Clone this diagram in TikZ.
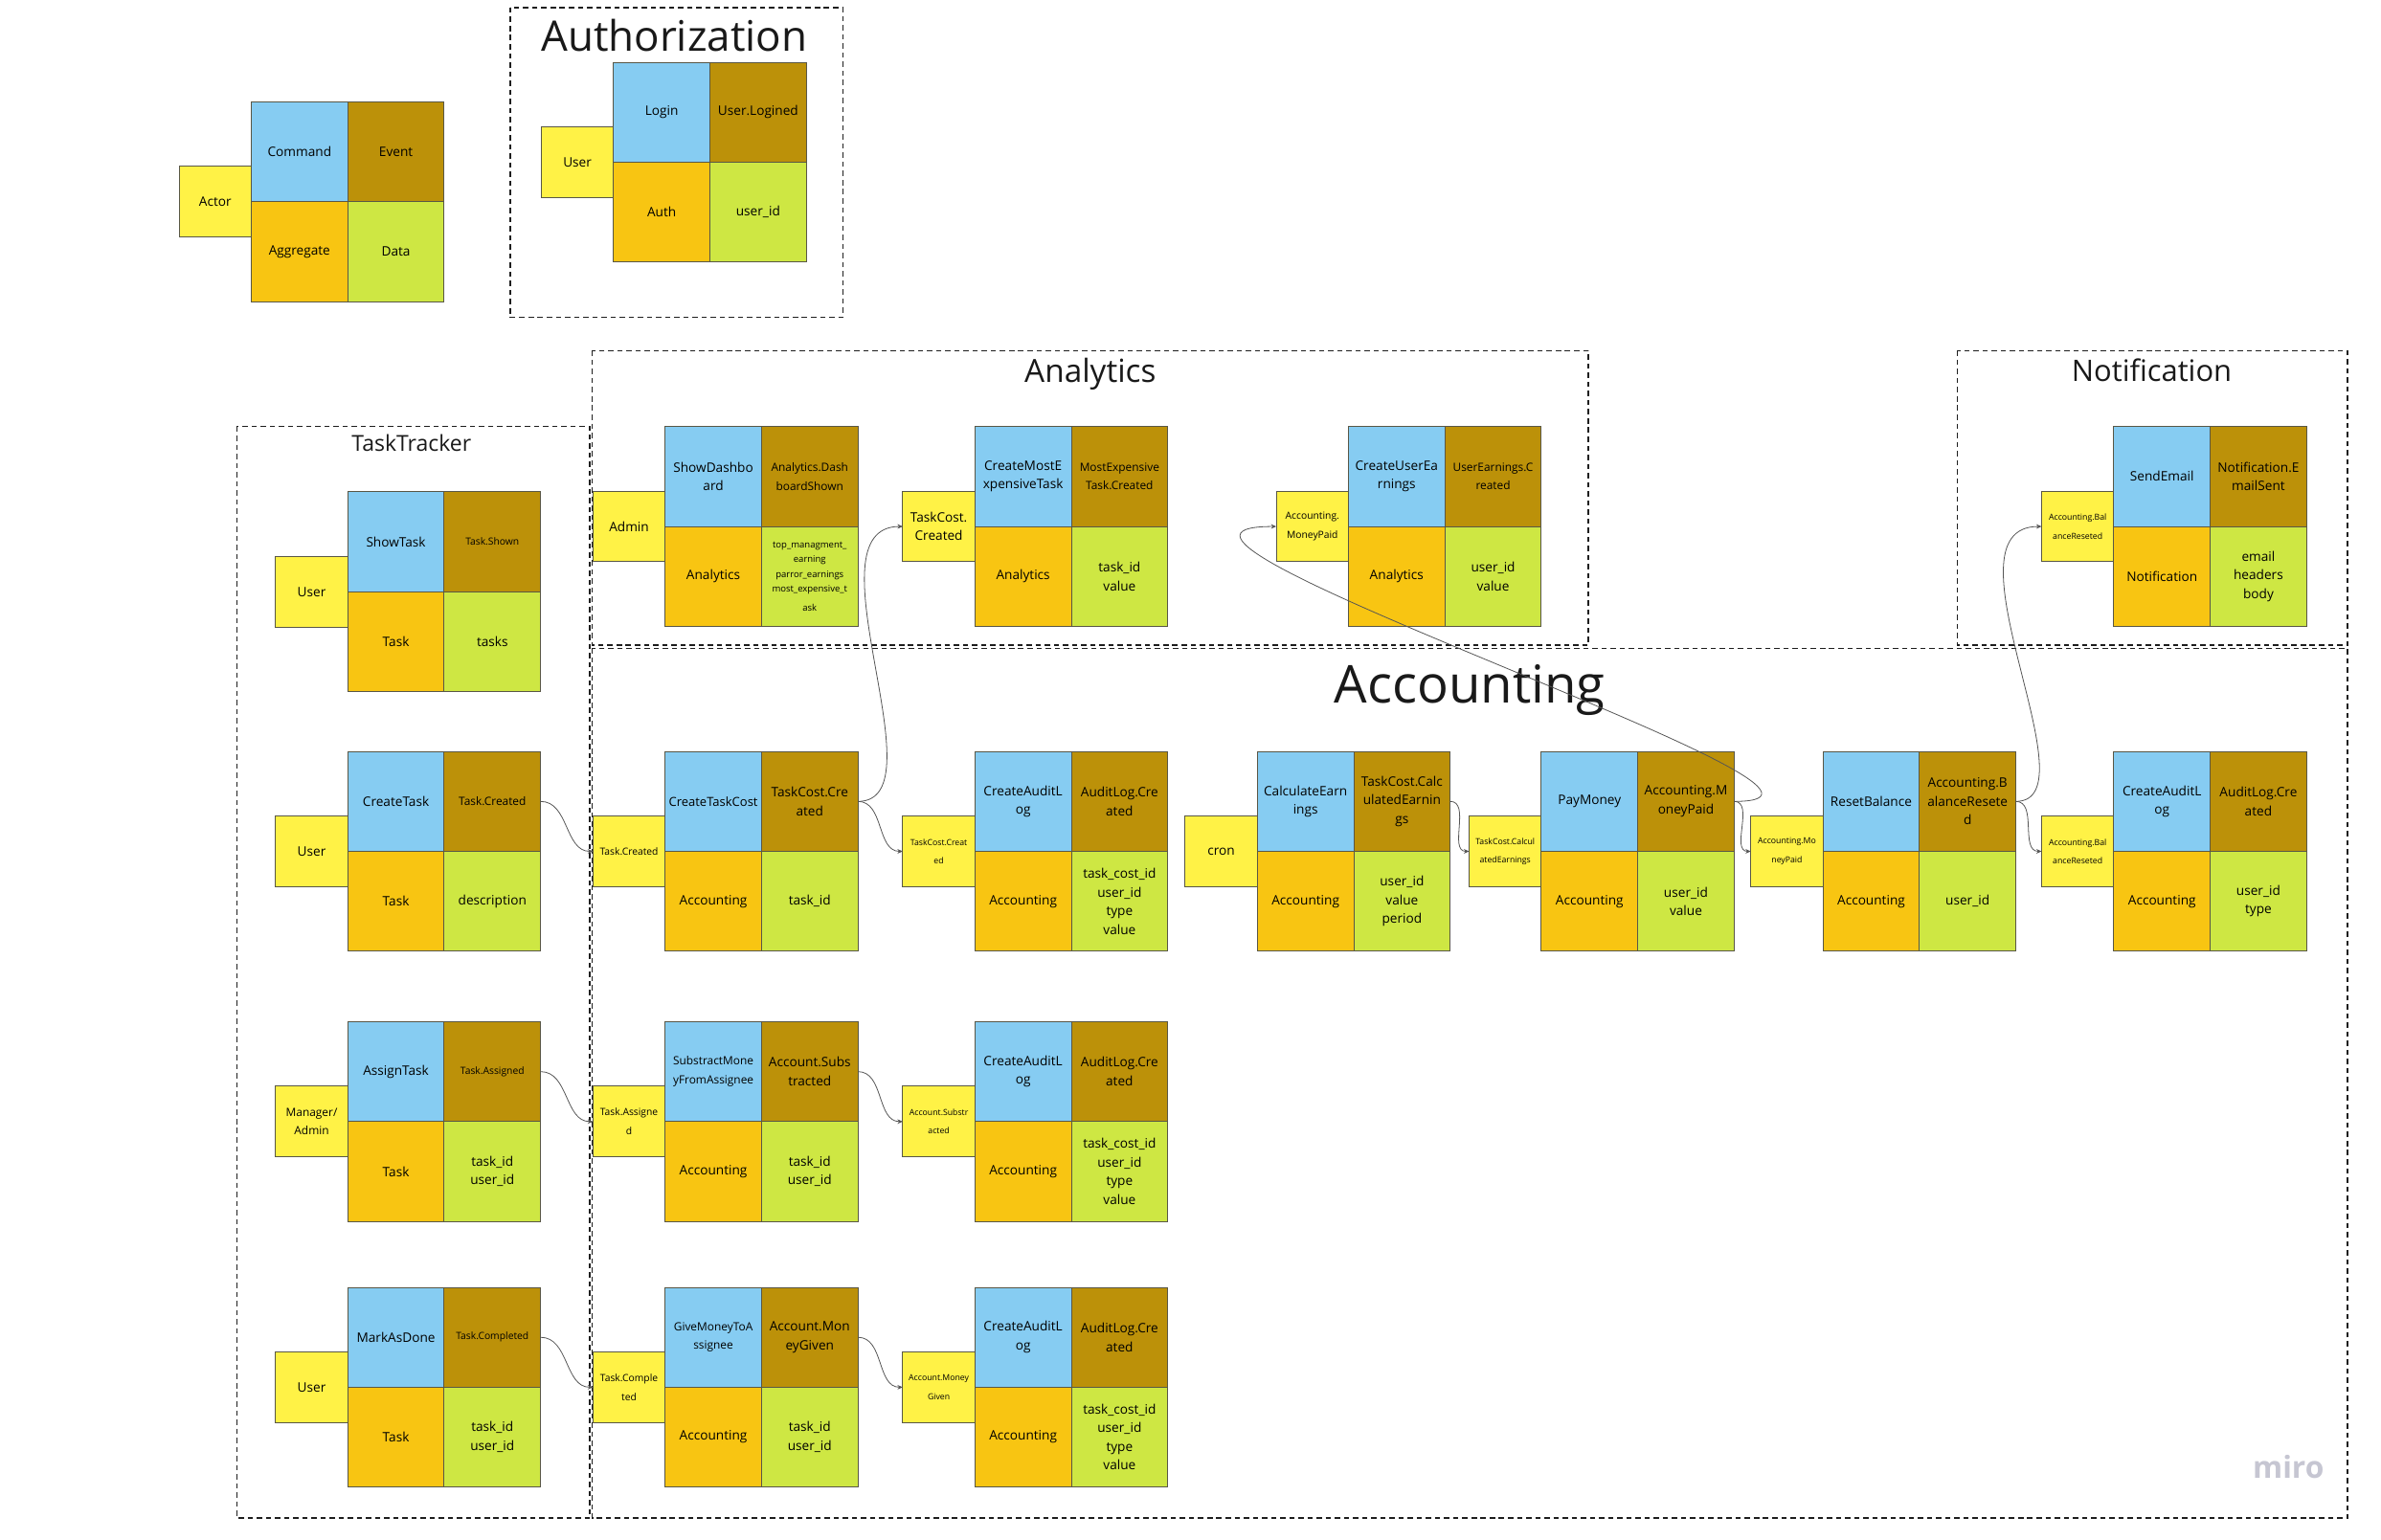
\documentclass[tikz,border=0pt]{standalone}
\usepackage{fontspec}
\setmainfont{Open Sans}
\usetikzlibrary{arrows.meta}
\definecolor{cmdc}{HTML}{86CCF2}
\definecolor{evc}{HTML}{BC9109}
\definecolor{aggc}{HTML}{F8C512}
\definecolor{datc}{HTML}{CEE743}
\definecolor{actc}{HTML}{FFF246}
\definecolor{cellline}{HTML}{595746}
\definecolor{connc}{HTML}{555555}
\definecolor{framec}{HTML}{1E1E1E}
\definecolor{miroc}{HTML}{C6C6D2}
\hyphenpenalty=10000
\exhyphenpenalty=10000
\newcommand\szA{\fontsize{8.6}{12.3}\selectfont}
\newcommand\szB{\fontsize{7.5}{10}\selectfont}
\newcommand\szC{\fontsize{6.5}{8.8}\selectfont}
\newcommand\szD{\fontsize{5.5}{7.4}\selectfont}
\newcommand\szE{\fontsize{6}{9.8}\selectfont}
\tikzset{
 cellbase/.style={draw=cellline, line width=0.6pt, minimum width=63.5pt, minimum height=65.8pt,
   text width=62pt, inner xsep=0.75pt, inner ysep=1pt, align=center, anchor=north west,
   outer sep=0pt, font=\szA},
 cmdcell/.style={cellbase, fill=cmdc},
 evcell/.style={cellbase, fill=evc},
 aggcell/.style={cellbase, fill=aggc},
 datcell/.style={cellbase, fill=datc},
 actbox/.style={draw=cellline, line width=0.6pt, fill=actc, minimum width=47.5pt,
   minimum height=46.5pt, text width=46pt, inner xsep=0.75pt, align=center, anchor=east,
   outer sep=0pt, font=\szA},
 zone/.style={draw=framec, line width=0.9pt, dash pattern=on 3.5pt off 2.5pt},
 ztitle/.style={inner sep=0pt, anchor=base, text=black!90},
 conn/.style={draw=connc, line width=0.5pt, -{Stealth[length=3.5pt,width=3pt]}},
}
\newcommand\EBlock[8]{%
 \node[cmdcell] (#1c) at (#2,#3) {#4};
 \node[evcell] (#1e) at (#2+63.5,#3) {#5};
 \node[aggcell] (#1a) at (#2,#3+65.8) {#6};
 \node[datcell] (#1d) at (#2+63.5,#3+65.8) {#7};
 \node[actbox] (#1y) at (#2,#3+65.8) {#8};
}
\begin{document}
\begin{tikzpicture}[x=1pt,y=-1pt]
\useasboundingbox[fill=white] (0,0) rectangle (1568,1014);

% frames
\draw[zone] (336,5) rectangle (555,209);
\draw[zone] (390,231) rectangle (1046,425);
\draw[zone] (1289,231) rectangle (1546,425);
\draw[zone] (156,281) rectangle (388.5,1000);
\draw[zone] (390,427) rectangle (1546,1000);

% titles
\node[ztitle, font=\fontsize{27.7}{32}\selectfont] (tAuth) at (444,33.6) {Authorization};
\node[ztitle, font=\fontsize{21}{25}\selectfont] (tAna) at (718,252) {Analytics};
\node[ztitle, font=\fontsize{19.5}{23}\selectfont] (tNot) at (1417,251) {Notification};
\node[ztitle, font=\fontsize{14.5}{17}\selectfont] (tTT) at (271,297.5) {TaskTracker};
\node[ztitle, font=\fontsize{34.4}{40}\selectfont] (tAcc) at (968,463) {Accounting};
\node[font=\fontsize{20}{24}\selectfont\bfseries, text=miroc, anchor=base] (miro) at (1507,974) {miro};

% legend and authorization
\EBlock{L}{165.5}{67}{Command}{Event}{Aggregate}{Data}{Actor}
\EBlock{AU}{404}{41}{Login}{User.Logined}{Auth}{user\_id}{User}

% analytics
\EBlock{ANa}{438}{281}{ShowDashbo\\ard}{\szB Analytics.Dash\\boardShown}{Analytics}
 {\szE top\_managment\_\\earning\\parror\_earnings\\most\_expensive\_t\\ask}{Admin}
\EBlock{ANb}{642}{281}{CreateMostE\\xpensiveTask}{\szB MostExpensive\\Task.Created}{Analytics}
 {task\_id\\value}{TaskCost.\\Created}
\EBlock{ANc}{888}{281}{CreateUserEa\\rnings}{\szB UserEarnings.C\\reated}{Analytics}
 {user\_id\\value}{\szC Accounting.\\MoneyPaid}

% notification
\EBlock{NO}{1392}{281}{SendEmail}{Notification.E\\mailSent}{Notification}
 {email\\headers\\body}{\szD Accounting.Bal\\anceReseted}

% task tracker
\EBlock{Ta}{229}{324}{ShowTask}{\szC Task.Shown}{Task}{tasks}{User}
\EBlock{Tb}{229}{495}{CreateTask}{\szB Task.Created}{Task}{description}{User}
\EBlock{Tc}{229}{673}{AssignTask}{\szC Task.Assigned}{Task}{task\_id\\user\_id}{\szB Manager/\\Admin}
\EBlock{Td}{229}{848}{MarkAsDone}{\szC Task.Completed}{Task}{task\_id\\user\_id}{User}

% accounting
\EBlock{Aa}{438}{495}{\fontsize{8.2}{11}\selectfont CreateTaskCost}{TaskCost.Cre\\ated}{Accounting}{task\_id}{\szC Task.Created}
\EBlock{Ab}{642}{495}{CreateAuditL\\og}{AuditLog.Cre\\ated}{Accounting}
 {task\_cost\_id\\user\_id\\type\\value}{\szD TaskCost.Creat\\ed}
\EBlock{Ac}{828}{495}{CalculateEarn\\ings}{TaskCost.Calc\\ulatedEarnin\\gs}{Accounting}
 {user\_id\\value\\period}{cron}
\EBlock{Ad}{1015}{495}{PayMoney}{Accounting.M\\oneyPaid}{Accounting}
 {user\_id\\value}{\szD TaskCost.Calcul\\atedEarnings}
\EBlock{Ae}{1200.5}{495}{ResetBalance}{Accounting.B\\alanceResete\\d}{Accounting}
 {user\_id}{\szD Accounting.Mo\\neyPaid}
\EBlock{Af}{1392}{495}{CreateAuditL\\og}{AuditLog.Cre\\ated}{Accounting}
 {user\_id\\type}{\szD Accounting.Bal\\anceReseted}
\EBlock{Ba}{438}{673}{\szB SubstractMone\\yFromAssignee}{Account.Subs\\tracted}{Accounting}
 {task\_id\\user\_id}{\szC Task.Assigne\\d}
\EBlock{Bb}{642}{673}{CreateAuditL\\og}{AuditLog.Cre\\ated}{Accounting}
 {task\_cost\_id\\user\_id\\type\\value}{\szD Account.Substr\\acted}
\EBlock{Ca}{438}{848}{\szB GiveMoneyToA\\ssignee}{Account.Mon\\eyGiven}{Accounting}
 {task\_id\\user\_id}{\szC Task.Comple\\ted}
\EBlock{Cb}{642}{848}{CreateAuditL\\og}{AuditLog.Cre\\ated}{Accounting}
 {task\_cost\_id\\user\_id\\type\\value}{\szD Account.Money\\Given}

% connectors
\draw[conn] (Tbe.east) to[out=0,in=180] (Aay.west);
\draw[conn] (Tce.east) to[out=0,in=180] (Bay.west);
\draw[conn] (Tde.east) to[out=0,in=180] (Cay.west);
\draw[conn] (Aae.east) to[out=0,in=180] (Aby.west);
\draw[conn] (Aae.east) .. controls +(56,0) and +(-65,0) .. (ANby.west);
\draw[conn] (Bae.east) to[out=0,in=180] (Bby.west);
\draw[conn] (Cae.east) to[out=0,in=180] (Cby.west);
\draw[conn] (Ace.east) to[out=0,in=180] (Ady.west);
\draw[conn] (Ade.east) to[out=0,in=180] (Aey.west);
\draw[conn] (Ade.east) .. controls +(125,0) and +(-140,0) .. (ANcy.west);
\draw[conn] (Aee.east) to[out=0,in=180] (Afy.west);
\draw[conn] (Aee.east) .. controls +(53,0) and +(-69,0) .. (NOy.west);
\end{tikzpicture}
\end{document}
